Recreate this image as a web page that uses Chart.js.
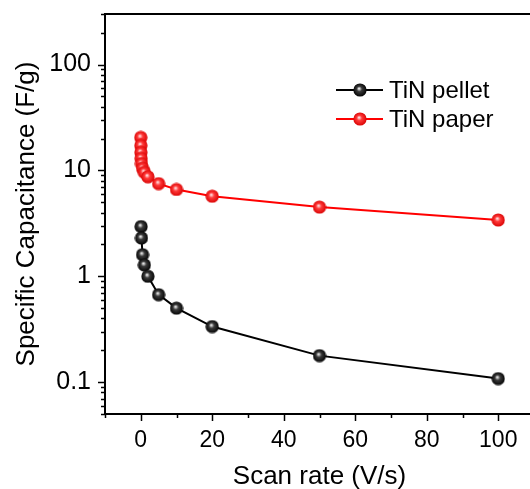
<!DOCTYPE html>
<html>
<head>
<meta charset="utf-8">
<script src="https://cdn.jsdelivr.net/npm/chart.js@4/dist/chart.umd.min.js"></script>
<style>
  html, body { margin: 0; padding: 0; overflow: hidden; background: #fff; }
  #clip { width: 530px; height: 489px; overflow: hidden; position: relative; }
  #wrap { position: absolute; left: 0; top: 0; width: 545px; height: 489px; }
</style>
</head>
<body>
<div id="clip"><div id="wrap"><canvas id="area"></canvas></div></div>
<script>
// scan rates (V/s) and specific capacitance (F/g)
var pelletRate = [0.1, 0.2, 0.5, 1, 2, 5, 10, 20, 50, 100]
var pelletCap  = [2.95, 2.3, 1.6, 1.28, 1.0, 0.67, 0.5, 0.335, 0.178, 0.108]
var paperRate  = [0.01, 0.02, 0.05, 0.1, 0.2, 0.5, 1, 2, 5, 10, 20, 50, 100]
var paperCap   = [20.5, 17.2, 14.8, 13.0, 11.6, 10.5, 9.6, 8.7, 7.5, 6.6, 5.7, 4.5, 3.4]

var seriesNames = ['TiN pellet', 'TiN paper']
var xTicks = [-10, 0, 10, 20, 30, 40, 50, 60, 70, 80, 90, 100, 110]
var xLabels = [0, 20, 40, 60, 80, 100]
var yLabels = [0.1, 1, 10, 100]
var yTicks = [0.05, 0.06, 0.07, 0.08, 0.09,
              0.1, 0.2, 0.3, 0.4, 0.5, 0.6, 0.7, 0.8, 0.9,
              1, 2, 3, 4, 5, 6, 7, 8, 9,
              10, 20, 30, 40, 50, 60, 70, 80, 90,
              100, 200, 300]

var FONT = "'Liberation Sans', Arial, sans-serif"

function ball(light, mid, dark) {
  var c = document.createElement('canvas')
  c.width = 14; c.height = 14
  var x = c.getContext('2d')
  var g = x.createRadialGradient(6, 5.5, 0.3, 7, 7, 7)
  g.addColorStop(0, light)
  g.addColorStop(0.35, mid)
  g.addColorStop(1, dark)
  x.fillStyle = g
  x.beginPath()
  x.arc(7, 7, 6.6, 0, Math.PI * 2)
  x.fill()
  return c
}
var blackBall = ball('#f2f2f2', '#3a3a3a', '#000000')
var redBall = ball('#ffe4e4', '#ff3a3a', '#d80000')

function pts(xs, ys) { return xs.map((v, i) => ({x: v, y: ys[i]})) }

function noPad(s) { s.paddingTop = s.paddingBottom = s.paddingLeft = s.paddingRight = 0 }

// ticks drawn outwards, long for labelled ones, short for the rest
var frame = {
  id: 'frame',
  afterDraw(chart) {
    var ctx = chart.ctx, a = chart.chartArea
    var xs = chart.scales.x, ys = chart.scales.y
    ctx.save()
    ctx.strokeStyle = '#000'
    ctx.lineWidth = 1.5
    xTicks.forEach(v => {
      var px = Math.round(xs.getPixelForValue(v)) + 0.5
      var len = xLabels.includes(v) ? 7 : 4
      ctx.beginPath(); ctx.moveTo(px, a.bottom); ctx.lineTo(px, a.bottom + len); ctx.stroke()
    })
    yTicks.forEach(v => {
      var py = Math.round(ys.getPixelForValue(v)) + 0.5
      var len = yLabels.includes(v) ? 7 : 4
      ctx.beginPath(); ctx.moveTo(a.left, py); ctx.lineTo(a.left - len, py); ctx.stroke()
    })
    ctx.lineWidth = 2
    ctx.beginPath()
    ctx.moveTo(a.left, a.bottom); ctx.lineTo(a.left, a.top); ctx.lineTo(a.right, a.top)
    ctx.lineTo(a.right, a.bottom); ctx.lineTo(a.left, a.bottom)
    ctx.stroke()

    // legend
    ctx.font = '24px ' + FONT
    ctx.textBaseline = 'middle'
    ctx.fillStyle = '#000'
    chart.data.datasets.forEach((d, i) => {
      var y = 90 + i * 29
      ctx.strokeStyle = d.borderColor
      ctx.lineWidth = 2
      ctx.beginPath(); ctx.moveTo(336, y); ctx.lineTo(383, y); ctx.stroke()
      ctx.drawImage(d.pointStyle, 360 - 7, y - 7)
      ctx.fillText(d.label, 389, y + 1)
    })
    ctx.restore()
  }
}

new Chart(document.getElementById('area'), {
  type: 'line',
  data: {
    datasets: [
      {
        label: seriesNames[0],
        data: pts(pelletRate, pelletCap),
        borderColor: '#000000',
        borderWidth: 2,
        pointStyle: blackBall,
        pointRadius: 7
      },
      {
        label: seriesNames[1],
        data: pts(paperRate, paperCap),
        borderColor: '#ff0000',
        borderWidth: 2,
        pointStyle: redBall,
        pointRadius: 7
      }
    ]
  },
  options: {
    responsive: true,
    maintainAspectRatio: false,
    animation: false,
    layout: { padding: { left: 0, top: 14, right: 11, bottom: 0 } },
    scales: {
      x: {
        type: 'linear',
        min: -10,
        max: 110,
        afterBuildTicks: s => { s.ticks = xTicks.map(v => ({value: v})) },
        afterFit: s => { s.height = 75; noPad(s) },
        grid: { display: false, drawTicks: false, tickLength: 0 },
        border: { display: false },
        ticks: {
          autoSkip: false,
          maxRotation: 0,
          padding: 13,
          color: '#000',
          font: { family: FONT, size: 23 },
          callback: v => xLabels.includes(v) ? String(v) : ''
        },
        title: {
          display: true,
          text: 'Scan rate (V/s)',
          color: '#000',
          font: { family: FONT, size: 26, lineHeight: 0.9 },
          padding: 0
        }
      },
      y: {
        type: 'logarithmic',
        min: 0.05,
        max: 300,
        afterBuildTicks: s => { s.ticks = yTicks.map(v => ({value: v})) },
        afterFit: s => { s.width = 105; noPad(s) },
        grid: { display: false, drawTicks: false, tickLength: 0 },
        border: { display: false },
        ticks: {
          autoSkip: false,
          padding: 14,
          color: '#000',
          font: { family: FONT, size: 25 },
          callback: v => yLabels.includes(v) ? String(v) : ''
        },
        title: {
          display: true,
          text: 'Specific Capacitance (F/g)',
          color: '#000',
          font: { family: FONT, size: 26, lineHeight: 1 },
          padding: { top: 14, bottom: 0 }
        }
      }
    },
    plugins: {
      legend: { display: false },
      tooltip: { enabled: false }
    }
  },
  plugins: [frame]
})
</script>
</body>
</html>
